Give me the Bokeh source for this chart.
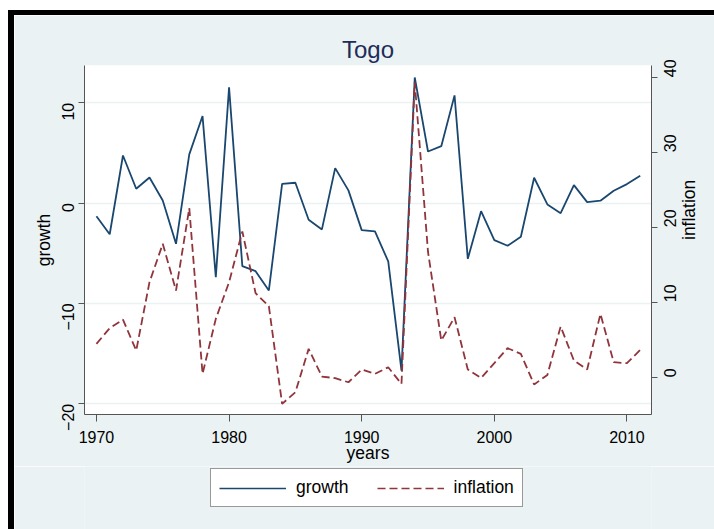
import math
from bokeh.plotting import figure
from bokeh.models import Range1d, LinearAxis, Legend, LegendItem, FixedTicker, Spacer
from bokeh.layouts import row, column
from bokeh.embed import file_html
from bokeh.resources import INLINE

years = list(range(1970, 2012))
growth = [-1.3, -3.1, 4.75, 1.43, 2.56, 0.27, -4.05, 4.86, 8.68, -7.38,
          11.54, -6.28, -6.78, -8.7, 1.93, 2.03, -1.66, -2.62, 3.49, 1.27,
          -2.69, -2.82, -5.81, -16.7, 12.53, 5.15, 5.68, 10.74, -5.55, -0.8,
          -3.69, -4.25, -3.35, 2.53, -0.13, -1.0, 1.8, 0.1, 0.24, 1.24,
          1.9, 2.73]
inflation = [4.45, 6.54, 7.69, 3.56, 12.67, 17.78, 11.56, 22.54, 0.45, 7.78,
             12.67, 19.43, 11.2, 9.47, -3.55, -2.0, 3.78, 0.09, -0.13, -0.67,
             1.03, 0.45, 1.33, -0.89, 39.33, 16.7, 4.89, 8.0, 1.03, -0.09,
             1.87, 3.87, 3.12, -0.97, 0.31, 6.76, 2.23, 1.03, 8.45, 2.0,
             1.87, 3.65]
x_ticks = [1970, 1980, 1990, 2000, 2010]
growth_ticks = [-20, -10, 0, 10]
infl_ticks = [0, 10, 20, 30, 40]
series_names = ["growth", "inflation"]

BG = "#eaf2f3"
NAVY = "#1a476f"
MAROON = "#90353b"
AX = "#555555"
FONT = "Liberation Sans"
DASH = "8 4"

# ---------------- main plot ----------------
p = figure(frame_width=567, frame_height=349, output_backend="svg",
           toolbar_location=None,
           x_range=Range1d(1969.1, 2011.85), y_range=Range1d(-21.07, 13.72),
           min_border_left=70, min_border_right=63, min_border_top=50,
           min_border_bottom=52)
p.extra_y_ranges = {"infl": Range1d(-4.97, 41.56)}

p.background_fill_color = "white"
p.border_fill_color = BG
p.outline_line_color = None

p.title.text = "Togo"
p.title.align = "center"
p.title.text_font = FONT
p.title.text_font_size = "24px"
p.title.text_font_style = "normal"
p.title.text_color = "#1e2c5a"
p.title.standoff = 5

r1 = p.line(years, growth, line_color=NAVY, line_width=1.8)
r2 = p.line(years, inflation, line_color=MAROON, line_width=1.8,
            line_dash=DASH, y_range_name="infl")

def style_axis(ax):
    ax.axis_line_color = AX
    ax.major_tick_line_color = AX
    ax.major_tick_out = 6
    ax.major_tick_in = 0
    ax.minor_tick_line_color = None
    ax.major_label_text_font = FONT
    ax.major_label_text_font_size = "16px"
    ax.major_label_text_color = "black"
    ax.axis_label_text_font = FONT
    ax.axis_label_text_font_size = "17.5px"
    ax.axis_label_text_font_style = "normal"
    ax.axis_label_text_color = "black"

xa = p.xaxis[0]
style_axis(xa)
xa.ticker = FixedTicker(ticks=x_ticks)
xa.axis_label = "years"
xa.major_tick_out = 7
xa.major_label_standoff = 9
xa.axis_label_standoff = -3

ya = p.yaxis[0]
style_axis(ya)
ya.ticker = FixedTicker(ticks=growth_ticks)
ya.axis_label = "growth"
ya.major_label_orientation = math.pi / 2
ya.major_label_standoff = 10
ya.axis_label_standoff = 0

ra = LinearAxis(y_range_name="infl", ticker=FixedTicker(ticks=infl_ticks),
                axis_label="inflation")
style_axis(ra)
ra.major_label_orientation = math.pi / 2
ra.axis_label_orientation = math.pi / 2
ra.major_label_standoff = 13
ra.axis_label_standoff = 3
p.add_layout(ra, "right")

p.xgrid.visible = False
p.ygrid.ticker = FixedTicker(ticks=growth_ticks)
p.ygrid.grid_line_color = BG
p.ygrid.grid_line_width = 1.5

# ---------------- legend strip (own small figure under the plot) ----------------
# (its frame is aligned with the main plot's frame by the column layout)
lf = figure(width=700, height=63, output_backend="svg", toolbar_location=None,
            x_range=Range1d(0, 1), y_range=Range1d(100, 101),
            x_axis_location=None, y_axis_location=None,
            min_border_left=0, min_border_right=0, min_border_top=0,
            min_border_bottom=0)
lf.title = None
lf.grid.visible = False
lf.outline_line_color = None
lf.background_fill_color = BG
lf.border_fill_color = BG
# same series, drawn outside this strip's ranges: only their legend keys show
g1 = lf.line(years, growth, line_color=NAVY, line_width=1.6)
g2 = lf.line(years, inflation, line_color=MAROON, line_width=1.6, line_dash=DASH)

legend = Legend(items=[LegendItem(label=series_names[0], renderers=[g1]),
                       LegendItem(label=series_names[1], renderers=[g2])],
                orientation="horizontal", location=(126, 22))
legend.border_line_color = "#333333"
legend.border_line_width = 1
legend.background_fill_color = "white"
legend.background_fill_alpha = 1
legend.label_text_font = FONT
legend.label_text_font_size = "17.5px"
legend.label_text_color = "black"
legend.glyph_width = 67
legend.glyph_height = 20
legend.label_height = 20
legend.label_standoff = 10
legend.spacing = 28
legend.padding = 8
legend.margin = 0
lf.add_layout(legend, "center")

# ---------------- window frame: white gap, black strips ----------------
gap = Spacer(width=714, height=10)
left_white = Spacer(width=8, height=519)
left_strip = Spacer(width=6, height=519, styles={"background-color": "black"})
top_strip = Spacer(width=700, height=5, styles={"background-color": "black"})
layout = column(gap,
                row(left_white, left_strip,
                    column(top_strip, p, lf, spacing=0), spacing=0),
                spacing=0)

open("out.html", "w").write(file_html(layout, INLINE))
